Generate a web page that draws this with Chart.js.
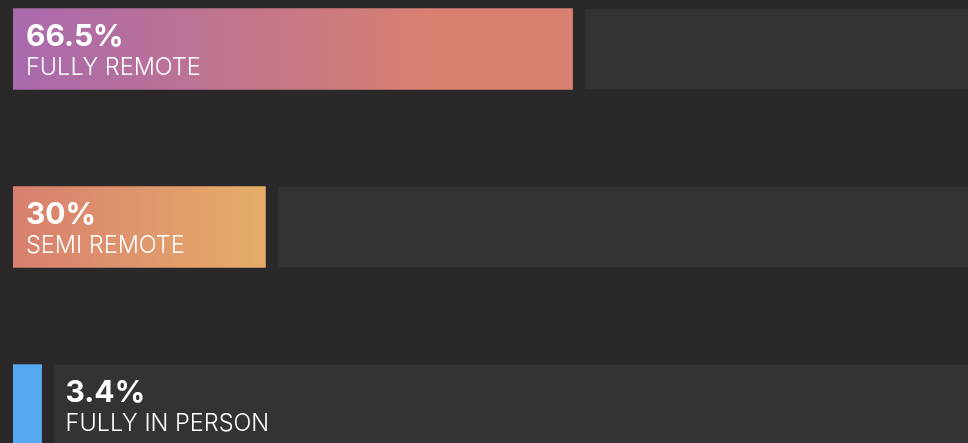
<!DOCTYPE html>
<html>
<head>
<meta charset="utf-8">
<script src="https://cdn.jsdelivr.net/npm/chart.js@4"></script>
<style>
  html, body { margin: 0; padding: 0; background: #2a2829; overflow: hidden; }
  #wrap { position: relative; width: 968px; height: 443px; overflow: hidden; }
  #wrap canvas { position: absolute; left: 0; top: -40px; }
</style>
</head>
<body>
<div id="wrap"><canvas id="chart" width="968" height="534"></canvas></div>
<script>
// data
const CATEGORIES = ['FULLY REMOTE', 'SEMI REMOTE', 'FULLY IN PERSON'];
const VALUES = [66.5, 30, 3.4];
const X_MAX = 113.5;

const BG = '#2a2829';
const TRACK = '#333333';
const GAP = 13;

// each bar has its own left -> right gradient
const GRADIENTS = [
  [[0, '#a869ae'], [0.75, '#d98070'], [1, '#d98070']],
  [[0, '#d87f6f'], [1, '#e6ad69']],
  [[0, '#55a9f1'], [1, '#55a9f1']],
];

function barFill(c) {
  const chart = c.chart;
  const x = chart.scales.x;
  if (!chart.chartArea || !x) return GRADIENTS[c.dataIndex][0][1];
  const x0 = x.getPixelForValue(0);
  const x1 = x.getPixelForValue(VALUES[c.dataIndex]);
  const g = chart.ctx.createLinearGradient(x0, 0, Math.max(x1, x0 + 1), 0);
  GRADIENTS[c.dataIndex].forEach(([o, col]) => g.addColorStop(o, col));
  return g;
}

const labelPlugin = {
  id: 'barLabels',
  afterDatasetsDraw(chart) {
    const ctx = chart.ctx;
    const bars = chart.getDatasetMeta(1).data;
    ctx.save();
    ctx.fillStyle = '#ffffff';
    ctx.textAlign = 'left';
    ctx.textBaseline = 'alphabetic';
    bars.forEach((bar, i) => {
      const top = bar.y - bar.height / 2;
      const valueText = VALUES[i] + '%';
      ctx.font = '700 30px Inter';
      const w1 = ctx.measureText(valueText).width;
      ctx.font = '300 23.5px Inter';
      const w2 = ctx.measureText(CATEGORIES[i]).width;
      const visible = bar.x - bar.base;
      const tx = visible > Math.max(w1, w2) + GAP * 2 ? bar.base + GAP : bar.x + GAP * 2 - 2;
      ctx.font = '700 30px Inter';
      ctx.fillText(valueText, tx, top + 37);
      ctx.font = '300 23.5px Inter';
      ctx.fillText(CATEGORIES[i], tx, top + 66);
    });
    ctx.restore();
  },
};

new Chart(document.getElementById('chart'), {
  type: 'bar',
  data: {
    labels: CATEGORIES,
    datasets: [
      {
        label: 'track',
        data: VALUES.map(v => [v, X_MAX]),
        backgroundColor: TRACK,
        borderColor: BG,
        borderWidth: { left: GAP, top: 0, right: 0, bottom: 0 },
        borderSkipped: false,
        barThickness: 81,
        grouped: false,
        order: 2,
      },
      {
        label: 'share',
        data: VALUES,
        backgroundColor: barFill,
        borderWidth: 0,
        barThickness: 81,
        grouped: false,
        order: 1,
      },
    ],
  },
  options: {
    indexAxis: 'y',
    responsive: false,
    animation: false,
    events: [],
    layout: { padding: { left: GAP, right: 0, top: 0, bottom: 0 } },
    plugins: { legend: { display: false }, tooltip: { enabled: false } },
    scales: {
      x: { display: false, min: 0, max: X_MAX },
      y: { display: false },
    },
  },
  plugins: [labelPlugin],
});
</script>
</body>
</html>
